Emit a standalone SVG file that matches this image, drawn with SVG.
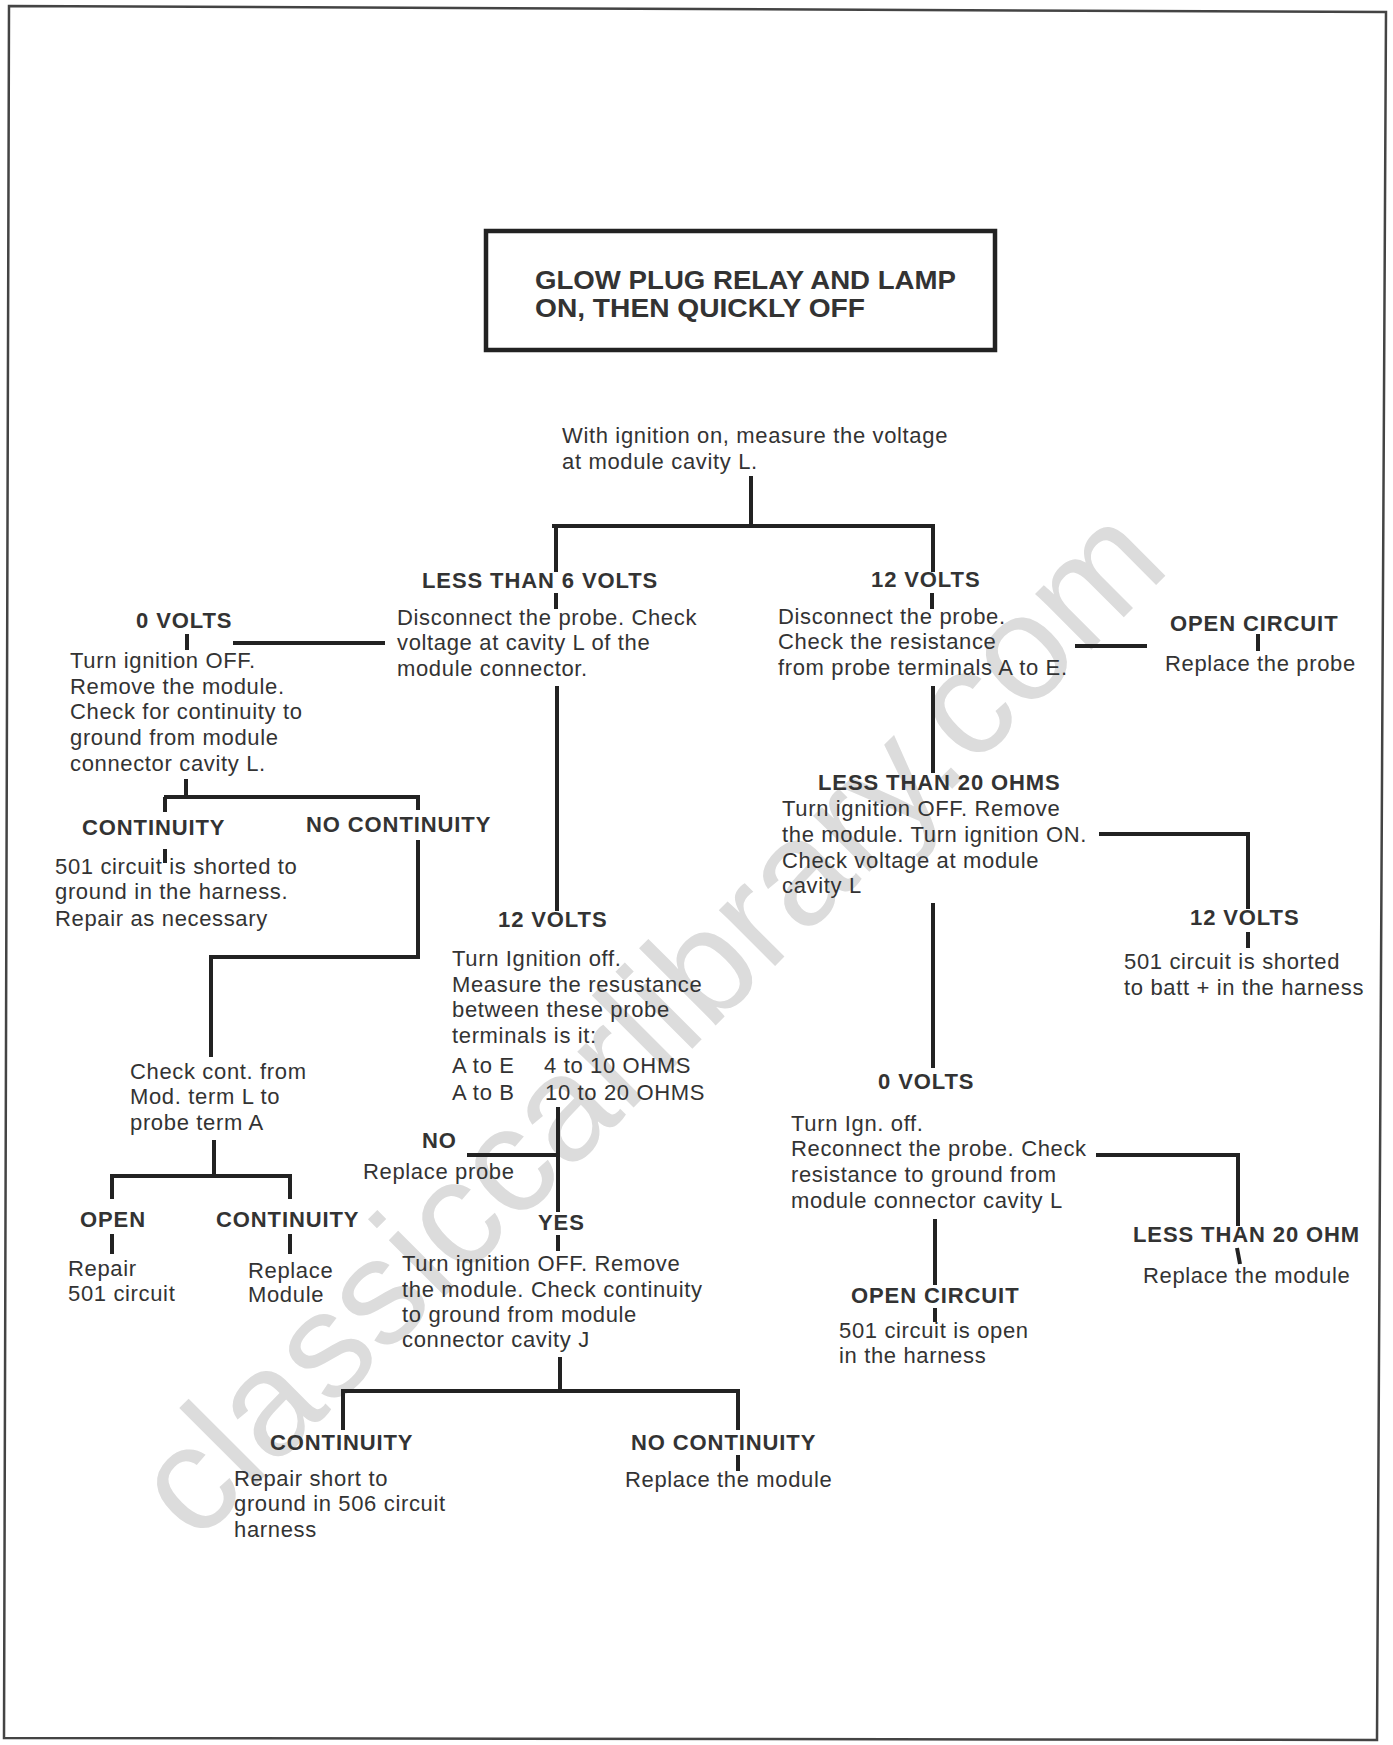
<svg xmlns="http://www.w3.org/2000/svg" width="1393" height="1745" viewBox="0 0 1393 1745">
<style>
text{font-family:"Liberation Sans",Arial,sans-serif;fill:#333}
.t{font-size:22px;letter-spacing:0.65px}
.b{font-size:22px;font-weight:bold;letter-spacing:0.9px}
.h{font-size:25px;font-weight:bold}
.c{stroke:#222;stroke-width:4;fill:none}
.wm{font-size:150px;fill:#dcdcdc}
</style>
<rect width="1393" height="1745" fill="#fff"/>
<text class="wm" transform="translate(196,1545) rotate(-45)">classiccarlibrary.com</text>
<polygon points="9,6 1386,12 1377,1740 4,1738" fill="none" stroke="#444" stroke-width="2.5"/>

<g id="connectors">
<path class="c" d="M751,476V526M552,526H935M556,526V572M933,526V572"/>
<path class="c" d="M556,593V609M932,593V609"/>
<path class="c" d="M557,686V911"/>
<path class="c" d="M1075,646H1147M1258,634V651"/>
<path class="c" d="M933,686V773"/>
<path class="c" d="M1099,834H1248V909M1248,932V948"/>
<path class="c" d="M933,903V1068"/>
<path class="c" d="M1096,1155H1238V1226M1237,1248L1240,1264"/>
<path class="c" d="M935,1219V1285M935,1308V1322"/>
<path class="c" d="M233,643H385M187,634V650"/>
<path class="c" d="M186,779V797M164,797H420M165,797V812M418,797V810M165,849V863"/>
<path class="c" d="M418,840V957H211V1057"/>
<path class="c" d="M214,1140V1176M110,1176H292M112,1176V1199M290,1176V1199M112,1234V1254M290,1234V1254"/>
<path class="c" d="M558,1107V1212M467,1155H558M558,1235V1251"/>
<path class="c" d="M560,1357V1391M341,1391H740M343,1391V1430M738,1391V1430M738,1455V1471"/>
</g>

<g id="title">
<rect x="486" y="231" width="509" height="119" fill="none" stroke="#222" stroke-width="4.5"/>
<text class="h" x="535" y="289" textLength="421" lengthAdjust="spacingAndGlyphs">GLOW PLUG RELAY AND LAMP</text>
<text class="h" x="535" y="317" textLength="330" lengthAdjust="spacingAndGlyphs">ON, THEN QUICKLY OFF</text>
</g>

<g id="start">
<text class="t" x="562" y="443">With ignition on, measure the voltage</text>
<text class="t" x="562" y="469">at module cavity L.</text>
</g>

<g id="lt6">
<text class="b" x="422" y="588">LESS THAN 6 VOLTS</text>
<text class="t" x="397" y="625">Disconnect the probe. Check</text>
<text class="t" x="397" y="650">voltage at cavity L of the</text>
<text class="t" x="397" y="676">module connector.</text>
</g>

<g id="v12a">
<text class="b" x="871" y="587">12 VOLTS</text>
<text class="t" x="778" y="624">Disconnect the probe.</text>
<text class="t" x="778" y="649">Check the resistance</text>
<text class="t" x="778" y="675">from probe terminals A to E.</text>
</g>

<g id="open1">
<text class="b" x="1170" y="631">OPEN CIRCUIT</text>
<text class="t" x="1165" y="671">Replace the probe</text>
</g>

<g id="lt20">
<text class="b" x="818" y="790">LESS THAN 20 OHMS</text>
<text class="t" x="782" y="816">Turn ignition OFF. Remove</text>
<text class="t" x="782" y="842">the module. Turn ignition ON.</text>
<text class="t" x="782" y="868">Check voltage at module</text>
<text class="t" x="782" y="893">cavity L</text>
</g>

<g id="v12b">
<text class="b" x="1190" y="925">12 VOLTS</text>
<text class="t" x="1124" y="969">501 circuit is shorted</text>
<text class="t" x="1124" y="995">to batt + in the harness</text>
</g>

<g id="v0b">
<text class="b" x="878" y="1089">0 VOLTS</text>
<text class="t" x="791" y="1131">Turn Ign. off.</text>
<text class="t" x="791" y="1156">Reconnect the probe. Check</text>
<text class="t" x="791" y="1182">resistance to ground from</text>
<text class="t" x="791" y="1208">module connector cavity L</text>
</g>

<g id="lt20b">
<text class="b" x="1133" y="1242">LESS THAN 20 OHM</text>
<text class="t" x="1143" y="1283">Replace the module</text>
</g>

<g id="open2">
<text class="b" x="851" y="1303">OPEN CIRCUIT</text>
<text class="t" x="839" y="1338">501 circuit is open</text>
<text class="t" x="839" y="1363">in the harness</text>
</g>

<g id="v0a">
<text class="b" x="136" y="628">0 VOLTS</text>
<text class="t" x="70" y="668">Turn ignition OFF.</text>
<text class="t" x="70" y="694">Remove the module.</text>
<text class="t" x="70" y="719">Check for continuity to</text>
<text class="t" x="70" y="745">ground from module</text>
<text class="t" x="70" y="771">connector cavity L.</text>
</g>

<g id="cont1">
<text class="b" x="82" y="835">CONTINUITY</text>
<text class="t" x="55" y="874">501 circuit is shorted to</text>
<text class="t" x="55" y="899">ground in the harness.</text>
<text class="t" x="55" y="926">Repair as necessary</text>
</g>

<g id="nocont1">
<text class="b" x="306" y="832">NO CONTINUITY</text>
</g>

<g id="checkcont">
<text class="t" x="130" y="1079">Check cont. from</text>
<text class="t" x="130" y="1104">Mod. term L to</text>
<text class="t" x="130" y="1130">probe term A</text>
</g>

<g id="open3">
<text class="b" x="80" y="1227">OPEN</text>
<text class="t" x="68" y="1276">Repair</text>
<text class="t" x="68" y="1301">501 circuit</text>
</g>

<g id="cont2">
<text class="b" x="216" y="1227">CONTINUITY</text>
<text class="t" x="248" y="1278">Replace</text>
<text class="t" x="248" y="1302">Module</text>
</g>

<g id="v12c">
<text class="b" x="498" y="927">12 VOLTS</text>
<text class="t" x="452" y="966">Turn Ignition off.</text>
<text class="t" x="452" y="992">Measure the resustance</text>
<text class="t" x="452" y="1017">between these probe</text>
<text class="t" x="452" y="1043">terminals is it:</text>
<text class="t" x="452" y="1073">A to E</text>
<text class="t" x="544" y="1073">4 to 10 OHMS</text>
<text class="t" x="452" y="1100">A to B</text>
<text class="t" x="545" y="1100">10 to 20 OHMS</text>
</g>

<g id="no">
<text class="b" x="422" y="1148">NO</text>
<text class="t" x="363" y="1179">Replace probe</text>
</g>

<g id="yes">
<text class="b" x="538" y="1230">YES</text>
<text class="t" x="402" y="1271">Turn ignition OFF. Remove</text>
<text class="t" x="402" y="1297">the module. Check  continuity</text>
<text class="t" x="402" y="1322">to ground from module</text>
<text class="t" x="402" y="1347">connector cavity J</text>
</g>

<g id="cont3">
<text class="b" x="270" y="1450">CONTINUITY</text>
<text class="t" x="234" y="1486">Repair short to</text>
<text class="t" x="234" y="1511">ground in 506 circuit</text>
<text class="t" x="234" y="1537">harness</text>
</g>

<g id="nocont3">
<text class="b" x="631" y="1450">NO CONTINUITY</text>
<text class="t" x="625" y="1487">Replace the module</text>
</g>
</svg>
